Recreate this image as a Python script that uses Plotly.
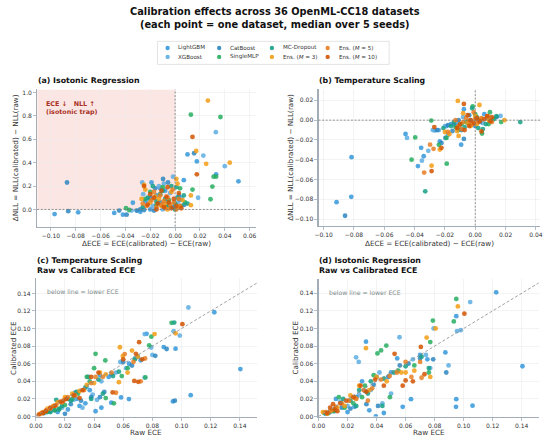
import plotly.graph_objects as go

W, H = 550, 442
SERIES = ["LightGBM", "XGBoost", "CatBoost", "SingleMLP", "MC-Dropout",
          "Ens. (<i>M</i> = 3)", "Ens. (<i>M</i> = 5)", "Ens. (<i>M</i> = 10)"]
COLORS = ["#3498db", "#5dade2", "#2e86c1", "#27ae60", "#16a085",
          "#f39c12", "#e67e22", "#d35400"]

# ---------- (a) Isotonic: (dECE, dNLL) ----------
A_LIGHTGBM = [(-0.097,-0.04),(-0.078,-0.025),(-0.049,-0.03),(-0.042,-0.045),(-0.034,0.057),(-0.028,-0.02),
              (-0.019,0.23),(-0.012,0.18),(-0.006,0.05),(0.0,0.01),(0.010,0.47),(0.0175,0.41),(0.033,0.30),
              (0.051,0.24),(0.007,0.25),(-0.02,0.0),(-0.015,0.12),(-0.008,0.16),(0.004,0.08),(-0.024,0.07)]
A_XGBOOST = [(-0.0265,0.23),(-0.0257,0.13),(0.0328,0.66),(0.0227,0.46),(0.040,0.37),(0.0185,0.10),(-0.0017,0.28),
             (-0.035,-0.01),(-0.03,-0.01),(-0.022,0.08),(-0.013,0.2),(-0.009,0.22),(-0.004,0.14),(0.002,0.06),
             (-0.018,0.03),(-0.01,0.0),(0.005,0.1),(-0.006,0.08)]
A_CATBOOST = [(-0.087,0.23),(-0.086,-0.015),(-0.045,-0.01),(-0.039,-0.045),(-0.031,-0.01),(-0.025,-0.005),
              (0.0153,0.48),(-0.0097,0.26),(-0.0057,0.23),(-0.016,0.18),(-0.002,0.02),(0.0074,0.04),(-0.02,0.1),
              (-0.012,0.06),(0.003,0.12),(-0.007,0.02),(-0.028,0.0),(-0.017,-0.01)]
A_SINGLEMLP = [(-0.0395,0.01),(-0.037,-0.005),(0.0127,0.81),(0.0365,0.79),(0.031,0.28),(0.033,0.28),(0.030,0.195),
               (0.014,0.17),(0.0285,0.087),(-0.02,0.15),(-0.01,0.19),(-0.005,0.08),(0.0,0.05),(0.004,0.18),
               (-0.015,0.04),(0.008,0.06),(-0.024,0.09)]
A_MCDROPOUT = [(-0.022,0.1),(-0.018,0.2),(-0.012,0.13),(-0.008,0.09),(-0.003,0.2),(0.001,0.19),(0.005,0.03),
               (0.01,0.05),(-0.015,0.07),(-0.006,0.03),(0.002,0.1),(-0.026,0.02),(-0.01,0.16),(0.007,0.12),(0.0,0.0)]
A_ENS3 = [(0.0264,0.93),(0.017,0.50),(0.025,0.39),(0.044,0.40),(0.0127,0.12),(0.0127,0.036),(-0.025,0.21),
          (-0.024,0.17),(0.001,0.26),(0.002,0.22),(-0.02,0.06),(-0.016,0.11),(-0.011,0.03),(-0.006,0.0),
          (-0.003,0.15),(0.003,0.02),(-0.027,0.09),(-0.013,0.09),(0.006,0.08),(-0.008,0.05)]
A_ENS5 = [(-0.023,0.03),(-0.019,0.08),(-0.015,0.02),(-0.012,0.12),(-0.009,0.07),(-0.006,0.1),(-0.004,0.04),
          (-0.001,0.06),(0.001,0.0),(0.003,0.09),(-0.017,0.15),(-0.008,0.01),(-0.002,0.17),(0.004,0.03),
          (-0.026,0.05),(-0.011,0.04)]
A_ENS10 = [(0.014,0.62),(0.0175,0.30),(-0.025,0.20),(-0.02,0.13),(-0.017,0.1),(-0.014,0.05),(-0.011,0.16),
           (-0.009,0.02),(-0.007,0.11),(-0.005,0.06),(-0.003,0.01),(-0.001,0.09),(0.001,0.03),(0.003,0.14),
           (-0.015,0.0),(-0.022,0.04),(0.005,0.01),(-0.006,0.19)]

# ---------- (b) Temperature scaling: (dECE, dNLL) ----------
B_LIGHTGBM = [(-0.0915,-0.083),(-0.0818,-0.0776),(-0.0816,-0.0375),(-0.046,-0.014),(-0.0357,-0.028),
              (-0.034,-0.0365),(-0.0378,-0.0465),(-0.0266,-0.0104),(-0.0234,-0.0215),(-0.0093,-0.0248),
              (-0.0075,0.011),(-0.012,-0.005),(-0.005,-0.003),(0.002,0.0),(0.006,0.006),(-0.016,-0.004),(-0.019,-0.006)]
B_XGBOOST = [(-0.0352,-0.041),(-0.031,-0.031),(-0.028,-0.01),(-0.024,-0.01),(-0.018,-0.015),(-0.012,-0.002),
             (-0.008,0.003),(-0.003,0.0),(0.0167,0.0043),(0.012,0.001),(0.005,-0.003),(-0.02,-0.006),
             (-0.01,-0.008),(-0.045,-0.018),(0.008,0.002)]
B_CATBOOST = [(-0.0859,-0.0967),(-0.0223,-0.023),(-0.0197,-0.018),(-0.025,-0.01),(-0.018,-0.005),(-0.014,-0.0045),
              (-0.0075,-0.019),(-0.004,0.005),(0.0,-0.006),(0.01,0.0),(0.003,-0.002),(-0.009,-0.01),(0.014,0.003),
              (-0.011,0.0),(-0.015,-0.011)]
B_SINGLEMLP = [(-0.0396,-0.0175),(-0.042,-0.04),(-0.024,-0.025),(-0.0188,-0.044),(-0.029,-0.0004),(-0.0017,0.014),
               (0.0097,0.008),(0.0088,-0.004),(0.0171,-0.002),(0.0045,-0.0135),(-0.013,-0.007),(-0.006,-0.002),
               (0.0,0.006),(0.012,0.001),(-0.019,-0.018),(-0.009,-0.004)]
B_MCDROPOUT = [(-0.033,-0.072),(0.0297,-0.002),(-0.021,-0.008),(-0.016,-0.006),(-0.011,-0.01),(-0.007,-0.007),
               (-0.002,0.012),(0.002,-0.008),(0.007,-0.004),(0.014,0.004),(-0.004,-0.002),(0.001,0.003),
               (-0.014,-0.002),(0.005,-0.009)]
B_ENS3 = [(-0.0115,0.0194),(-0.0288,-0.046),(-0.0234,-0.0298),(0.0028,0.0153),(0.0193,0.0),(-0.011,-0.016),
          (-0.017,-0.014),(-0.005,-0.003),(0.0,0.004),(-0.008,0.007),(0.004,0.001),(0.009,0.0),(-0.003,-0.006),
          (-0.012,-0.011),(0.001,-0.004),(-0.02,-0.012)]
B_ENS5 = [(-0.0298,-0.0248),(-0.0337,-0.053),(-0.0275,-0.029),(-0.018,-0.012),(-0.011,-0.006),(-0.008,-0.002),
          (-0.006,0.002),(-0.004,-0.001),(-0.002,-0.004),(0.0,0.001),(0.002,-0.002),(0.004,0.002),(0.008,0.004),
          (-0.013,0.0),(0.011,-0.002),(-0.009,-0.009),(-0.001,0.008)]
B_ENS10 = [(-0.0288,-0.0515),(-0.027,-0.007),(-0.0223,-0.028),(-0.0075,0.0164),(0.011,0.003),(0.01,-0.001),
           (0.0041,-0.0114),(-0.01,-0.004),(-0.007,-0.01),(-0.005,0.005),(-0.003,0.0),(-0.001,-0.003),
           (0.001,0.002),(0.003,-0.001),(0.006,0.001),(-0.012,-0.008),(-0.004,-0.006),(0.008,0.004)]

# ---------- (c) Temperature scaling: (raw ECE, calibrated ECE) ----------
C_LIGHTGBM = [(0.1225,0.1186),(0.1404,0.054),(0.0878,0.079),(0.0959,0.0772),(0.0941,0.0172),(0.1063,0.0243),
              (0.0639,0.0198),(0.0585,0.0217),(0.0518,0.0157),(0.0439,0.0473),(0.072,0.064),(0.064,0.06),
              (0.034,0.015),(0.041,0.006),(0.028,0.02),(0.022,0.008),(0.015,0.005),(0.03,0.012),(0.05,0.045),
              (0.037,0.03),(0.01,0.006),(0.045,0.01),(0.076,0.094)]
C_XGBOOST = [(0.1047,0.124),(0.0946,0.097),(0.0988,0.092),(0.0747,0.0938),(0.0792,0.0785),(0.0747,0.0443),
             (0.08,0.07),(0.068,0.066),(0.062,0.055),(0.055,0.05),(0.045,0.04),(0.035,0.034),(0.026,0.019),
             (0.018,0.01),(0.042,0.019),(0.032,0.01),(0.012,0.008),(0.006,0.004),(0.058,0.062),(0.039,0.025)]
C_CATBOOST = [(0.0954,0.018),(0.0898,0.0768),(0.082,0.069),(0.07,0.068),(0.06,0.062),(0.047,0.028),(0.038,0.022),
              (0.031,0.018),(0.024,0.014),(0.02,0.003),(0.013,0.007),(0.008,0.006),(0.044,0.022),(0.052,0.048),
              (0.036,0.045),(0.066,0.058),(0.027,0.027)]
C_SINGLEMLP = [(0.0932,0.1065),(0.0793,0.0908),(0.0778,0.081),(0.041,0.0713),(0.0477,0.0638),(0.0752,0.0445),
               (0.0536,0.015),(0.059,0.046),(0.035,0.045),(0.04,0.055),(0.029,0.026),(0.02,0.013),(0.013,0.007),
               (0.008,0.005),(0.016,0.009),(0.048,0.021),(0.037,0.04),(0.025,0.02),(0.063,0.055)]
C_MCDROPOUT = [(0.095,0.1068),(0.068,0.065),(0.057,0.051),(0.053,0.046),(0.043,0.042),(0.034,0.033),(0.028,0.028),
               (0.022,0.02),(0.018,0.012),(0.014,0.019),(0.01,0.005),(0.005,0.004),(0.024,0.018),(0.038,0.02),
               (0.016,0.008),(0.046,0.026)]
C_ENS3 = [(0.0959,0.0946),(0.0815,0.0938),(0.0577,0.0788),(0.0597,0.0687),(0.07,0.068),(0.057,0.039),(0.063,0.05),
          (0.048,0.048),(0.04,0.038),(0.035,0.036),(0.03,0.029),(0.025,0.026),(0.02,0.022),(0.015,0.016),
          (0.012,0.012),(0.008,0.009),(0.005,0.005),(0.003,0.003),(0.044,0.05),(0.066,0.075)]
C_ENS5 = [(0.075,0.066),(0.067,0.062),(0.061,0.071),(0.052,0.05),(0.046,0.045),(0.041,0.045),(0.033,0.03),
          (0.027,0.024),(0.022,0.022),(0.018,0.016),(0.014,0.013),(0.01,0.009),(0.007,0.007),(0.004,0.004),
          (0.038,0.038),(0.072,0.04),(0.055,0.027)]
C_ENS10 = [(0.1006,0.105),(0.0709,0.0845),(0.0687,0.0713),(0.0676,0.0405),(0.0703,0.0394),(0.0527,0.0274),
           (0.073,0.065),(0.06,0.065),(0.043,0.05),(0.038,0.045),(0.032,0.03),(0.026,0.024),(0.021,0.02),
           (0.017,0.017),(0.013,0.012),(0.01,0.01),(0.007,0.006),(0.005,0.004),(0.002,0.002),(0.03,0.021),(0.019,0.018)]

# ---------- (d) Isotonic: (raw ECE, calibrated ECE) ----------
D_LIGHTGBM = [(0.1224,0.141),(0.1405,0.0571),(0.0949,0.114),(0.0874,0.0728),(0.0949,0.0197),(0.0947,0.011),
              (0.1061,0.0123),(0.0327,0.085),(0.0542,0.066),(0.0637,0.0197),(0.0395,0.0),(0.0248,0.011),
              (0.045,0.004),(0.035,0.007),(0.02,0.005),(0.03,0.04),(0.04,0.045),(0.05,0.05),(0.07,0.07),
              (0.075,0.065),(0.012,0.02),(0.058,0.011)]
D_XGBOOST = [(0.1045,0.130),(0.0954,0.097),(0.098,0.098),(0.0793,0.100),(0.0896,0.058),(0.0558,0.090),
             (0.0259,0.0672),(0.0277,0.062),(0.074,0.07),(0.065,0.065),(0.05,0.026),(0.042,0.05),(0.036,0.03),
             (0.028,0.025),(0.02,0.012),(0.015,0.017),(0.008,0.005),(0.044,0.015),(0.077,0.055)]
D_CATBOOST = [(0.07,0.066),(0.062,0.06),(0.056,0.058),(0.048,0.045),(0.038,0.036),(0.032,0.029),(0.026,0.022),
              (0.022,0.009),(0.016,0.01),(0.011,0.006),(0.005,0.003),(0.041,0.012),(0.033,0.014),(0.079,0.065),
              (0.088,0.05)]
D_SINGLEMLP = [(0.0949,0.1336),(0.0932,0.108),(0.0788,0.109),(0.077,0.0845),(0.0406,0.0716),(0.0431,0.075),
               (0.0467,0.0806),(0.0492,0.022),(0.076,0.05),(0.066,0.058),(0.055,0.052),(0.038,0.047),(0.032,0.035),
               (0.024,0.015),(0.018,0.01),(0.014,0.022),(0.01,0.006),(0.03,0.022)]
D_MCDROPOUT = [(0.071,0.068),(0.076,0.055),(0.06,0.057),(0.052,0.05),(0.045,0.043),(0.036,0.04),(0.028,0.03),
               (0.022,0.018),(0.017,0.02),(0.012,0.01),(0.007,0.004),(0.004,0.004),(0.026,0.012),(0.044,0.012),
               (0.034,0.026)]
D_ENS3 = [(0.096,0.125),(0.0807,0.100),(0.0745,0.0896),(0.0327,0.0776),(0.077,0.045),(0.066,0.052),(0.06,0.05),
          (0.057,0.05),(0.047,0.04),(0.04,0.045),(0.035,0.03),(0.028,0.035),(0.022,0.024),(0.018,0.012),
          (0.013,0.01),(0.009,0.007),(0.006,0.003),(0.003,0.005),(0.025,0.021)]
D_ENS5 = [(0.07,0.062),(0.064,0.045),(0.06,0.062),(0.054,0.05),(0.049,0.046),(0.043,0.042),(0.037,0.032),
          (0.031,0.03),(0.026,0.02),(0.021,0.018),(0.016,0.015),(0.012,0.011),(0.008,0.006),(0.005,0.005),
          (0.071,0.044),(0.034,0.018)]
D_ENS10 = [(0.1005,0.1168),(0.0705,0.079),(0.0524,0.0712),(0.073,0.048),(0.065,0.04),(0.058,0.035),(0.045,0.035),
           (0.039,0.042),(0.033,0.028),(0.029,0.035),(0.024,0.022),(0.019,0.018),(0.015,0.015),(0.011,0.008),
           (0.008,0.01),(0.006,0.004),(0.01,0.014),(0.013,0.006),(0.06,0.041)]

PANEL_A = [A_LIGHTGBM, A_XGBOOST, A_CATBOOST, A_SINGLEMLP, A_MCDROPOUT, A_ENS3, A_ENS5, A_ENS10]
PANEL_B = [B_LIGHTGBM, B_XGBOOST, B_CATBOOST, B_SINGLEMLP, B_MCDROPOUT, B_ENS3, B_ENS5, B_ENS10]
PANEL_C = [C_LIGHTGBM, C_XGBOOST, C_CATBOOST, C_SINGLEMLP, C_MCDROPOUT, C_ENS3, C_ENS5, C_ENS10]
PANEL_D = [D_LIGHTGBM, D_XGBOOST, D_CATBOOST, D_SINGLEMLP, D_MCDROPOUT, D_ENS3, D_ENS5, D_ENS10]

FONT = "DejaVu Sans"
TXT = "#333333"
SPINE = "#a3adb8"
GRID = "#ebebeb"


def px_x(p):
    return p / W


def px_y(p):
    return 1 - p / H


# pixel boxes (left, right, top, bottom)
BOX = {
    "a": (30.7, 253.0, 89.3, 227.7),
    "b": (316.7, 542.3, 89.3, 226.7),
    "c": (29.3, 254.0, 280.0, 419.3),
    "d": (316.7, 540.7, 280.7, 419.3),
}
AX = {"a": ("x", "y"), "b": ("x2", "y2"), "c": ("x3", "y3"), "d": ("x4", "y4")}

fig = go.Figure()

for key, panel in (("a", PANEL_A), ("b", PANEL_B), ("c", PANEL_C), ("d", PANEL_D)):
    xa, ya = AX[key]
    for i, pts in enumerate(panel):
        fig.add_trace(go.Scatter(
            x=[p[0] for p in pts], y=[p[1] for p in pts],
            mode="markers", name=SERIES[i],
            marker=dict(size=4.8, color=COLORS[i], opacity=0.85, line=dict(width=0)),
            xaxis=xa, yaxis=ya, showlegend=False, hoverinfo="skip",
        ))

axis_common = dict(showgrid=True, gridcolor=GRID, gridwidth=0.6, zeroline=False,
                   showline=True, linecolor=SPINE, linewidth=1.1, ticks="outside",
                   ticklen=3, tickwidth=0.8, tickcolor=SPINE,
                   tickfont=dict(family=FONT, size=6, color=TXT), mirror=False)

ranges = {
    "a": ([-0.111, 0.065], [-0.147, 1.025], [-0.10, -0.08, -0.06, -0.04, -0.02, 0.0, 0.02, 0.04, 0.06],
          [0.0, 0.2, 0.4, 0.6, 0.8, 1.0], ".2f", ".1f"),
    "b": ([-0.1034, 0.043], [-0.1067, 0.031], [-0.10, -0.08, -0.06, -0.04, -0.02, 0.0, 0.02, 0.04],
          [-0.10, -0.08, -0.06, -0.04, -0.02, 0.0, 0.02], ".2f", ".2f"),
    "c": ([0, 0.1517], [0, 0.157], [0, 0.02, 0.04, 0.06, 0.08, 0.10, 0.12, 0.14],
          [0, 0.02, 0.04, 0.06, 0.08, 0.10, 0.12, 0.14], ".2f", ".2f"),
    "d": ([0, 0.1518], [0, 0.156], [0, 0.02, 0.04, 0.06, 0.08, 0.10, 0.12, 0.14],
          [0, 0.02, 0.04, 0.06, 0.08, 0.10, 0.12, 0.14], ".2f", ".2f"),
}

layout_axes = {}
for idx, key in enumerate(["a", "b", "c", "d"]):
    l, r, t, b = BOX[key]
    xr, yr, xt, yt, xf, yf = ranges[key]
    sx = "" if idx == 0 else str(idx + 1)
    layout_axes["xaxis" + sx] = dict(axis_common, domain=[px_x(l), px_x(r)], range=xr,
                                     tickvals=xt, tickformat=xf, anchor="y" + sx)
    layout_axes["yaxis" + sx] = dict(axis_common, domain=[px_y(b), px_y(t)], range=yr,
                                     tickvals=yt, tickformat=yf, anchor="x" + sx)

shapes = []
# isotonic-trap shaded region
shapes.append(dict(type="rect", xref="x", yref="y", x0=-0.111, x1=0, y0=0, y1=1.025,
                   fillcolor="rgba(231,76,60,0.14)", line=dict(width=0), layer="below"))
for sx in ["", "2"]:
    shapes.append(dict(type="line", xref="x" + sx, yref="y" + sx + " domain", x0=0, x1=0, y0=0, y1=1,
                       line=dict(color="#777777", width=0.8, dash="2px,1.6px"), layer="above"))
    shapes.append(dict(type="line", xref="x" + sx + " domain", yref="y" + sx, x0=0, x1=1, y0=0, y1=0,
                       line=dict(color="#777777", width=0.8, dash="2px,1.6px"), layer="above"))
for sx in ["3", "4"]:
    shapes.append(dict(type="line", xref="x" + sx, yref="y" + sx, x0=0, x1=0.1517, y0=0, y1=0.1517,
                       line=dict(color="#8a8a8a", width=0.8, dash="3px,2px"), layer="above"))

# legend (frame + key dots + labels)
LEG_L, LEG_R, LEG_T, LEG_B = 153.0, 388.5, 40.7, 64.0
shapes.append(dict(type="rect", xref="paper", yref="paper", x0=px_x(LEG_L), x1=px_x(LEG_R),
                   y0=px_y(LEG_B), y1=px_y(LEG_T), line=dict(color="#dcdcdc", width=0.8),
                   fillcolor="rgba(255,255,255,0.85)", layer="below"))
COL_DOT_X = [163.3, 215.7, 269.3, 326.0]
COL_TEXT_X = [172.3, 224.7, 278.5, 335.3]
ROW_Y = [47.4, 56.4]
GRID_POS = [(0, 0), (0, 1), (1, 0), (1, 1), (2, 0), (2, 1), (3, 0), (3, 1)]
DOT_R = 2.2

ann = []
for i, (c, r) in enumerate(GRID_POS):
    cx, cy = COL_DOT_X[c], ROW_Y[r]
    shapes.append(dict(type="circle", xref="paper", yref="paper",
                       x0=px_x(cx - DOT_R), x1=px_x(cx + DOT_R), y0=px_y(cy + DOT_R), y1=px_y(cy - DOT_R),
                       fillcolor=COLORS[i], line=dict(width=0), opacity=0.9))
    ann.append(dict(text=SERIES[i], xref="paper", yref="paper", x=px_x(COL_TEXT_X[c]), y=px_y(cy),
                    xanchor="left", yanchor="middle", showarrow=False,
                    font=dict(family=FONT, size=5.6, color=TXT)))

# suptitle
ann.append(dict(text="<b>Calibration effects across 36 OpenML-CC18 datasets<br>"
                     "(each point = one dataset, median over 5 seeds)</b>",
                xref="paper", yref="paper", x=px_x(272), y=px_y(3.5), xanchor="center", yanchor="top",
                showarrow=False, font=dict(family=FONT, size=9.8, color="#111111"), align="center"))
# panel titles
ann.append(dict(text="<b>(a) Isotonic Regression</b>", xref="paper", yref="paper",
                x=px_x(29.5), y=px_y(87.0), xanchor="left", yanchor="bottom", showarrow=False,
                font=dict(family=FONT, size=7.8, color="#111111")))
ann.append(dict(text="<b>(b) Temperature Scaling</b>", xref="paper", yref="paper",
                x=px_x(315.5), y=px_y(87.0), xanchor="left", yanchor="bottom", showarrow=False,
                font=dict(family=FONT, size=7.8, color="#111111")))
ann.append(dict(text="<b>(c) Temperature Scaling<br>Raw vs Calibrated ECE</b>", xref="paper", yref="paper",
                x=px_x(28.5), y=px_y(278.5), xanchor="left", yanchor="bottom", showarrow=False, align="left",
                font=dict(family=FONT, size=7.8, color="#111111")))
ann.append(dict(text="<b>(d) Isotonic Regression<br>Raw vs Calibrated ECE</b>", xref="paper", yref="paper",
                x=px_x(315.5), y=px_y(278.5), xanchor="left", yanchor="bottom", showarrow=False, align="left",
                font=dict(family=FONT, size=7.8, color="#111111")))
# axis titles
XLAB = "ΔECE = ECE(calibrated) − ECE(raw)"
YLAB = "ΔNLL = NLL(calibrated) − NLL(raw)"
for key, xl, yl, xy, yx in (("a", XLAB, YLAB, 244.5, 8.3), ("b", XLAB, YLAB, 244.5, 288),
                            ("c", "Raw ECE", "Calibrated ECE", 435.5, 6.5),
                            ("d", "Raw ECE", "Calibrated ECE", 435.5, 293.5)):
    l, r, t, b = BOX[key]
    ann.append(dict(text=xl, xref="paper", yref="paper", x=px_x((l + r) / 2), y=px_y(xy),
                    xanchor="center", yanchor="middle", showarrow=False,
                    font=dict(family=FONT, size=7.2, color=TXT)))
    ann.append(dict(text=yl, xref="paper", yref="paper", x=px_x(yx), y=px_y((t + b) / 2),
                    xanchor="center", yanchor="middle", showarrow=False, textangle=-90,
                    font=dict(family=FONT, size=7.2, color=TXT)))
# in-plot notes
ann.append(dict(text="<b>ECE ↓   NLL ↑<br>(isotonic trap)</b>", xref="x domain", yref="y domain",
                x=0.033, y=0.935, xanchor="left", yanchor="top", showarrow=False, align="left",
                font=dict(family=FONT, size=6.4, color="#a93226")))
ann.append(dict(text="below line = lower ECE", xref="x3 domain", yref="y3 domain",
                x=0.043, y=0.905, xanchor="left", yanchor="middle", showarrow=False,
                font=dict(family=FONT, size=6.2, color="#7f8c8d")))
ann.append(dict(text="below line = lower ECE", xref="x4 domain", yref="y4 domain",
                x=0.04, y=0.905, xanchor="left", yanchor="middle", showarrow=False,
                font=dict(family=FONT, size=6.2, color="#7f8c8d")))

fig.update_layout(
    width=W, height=H, margin=dict(l=0, r=0, t=0, b=0),
    paper_bgcolor="white", plot_bgcolor="white",
    font=dict(family=FONT, color=TXT), showlegend=False,
    shapes=shapes, annotations=ann,
    **layout_axes,
)

fig.write_html("out.html", config={"displayModeBar": False, "staticPlot": True},
               post_script="document.body.style.margin='0px';document.body.style.overflow='hidden';")
